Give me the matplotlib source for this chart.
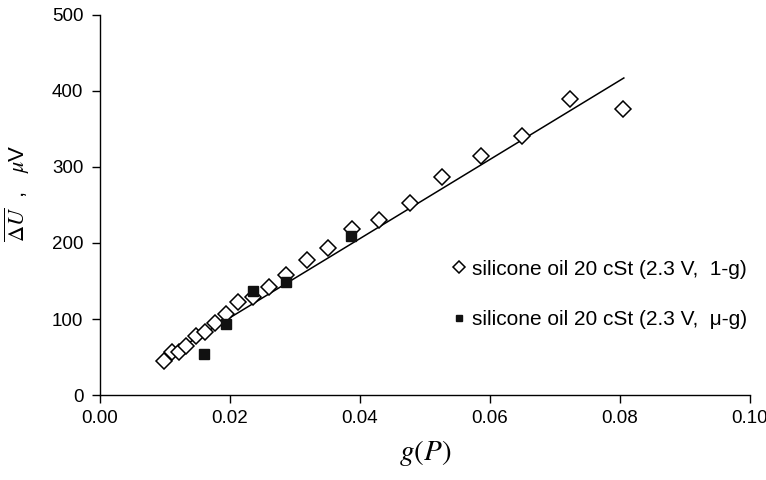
import matplotlib.pyplot as plt

plt.rcParams['font.family'] = ['Liberation Sans', 'DejaVu Sans']
plt.rcParams['mathtext.fontset'] = 'stix'

# silicone oil 20 cSt, 2.3 V, 1-g (hollow diamonds)
g_1g = [0.0099, 0.0111, 0.0122, 0.0132, 0.0147, 0.0162, 0.0177, 0.0194, 0.0213,
        0.0236, 0.0260, 0.0287, 0.0318, 0.0351, 0.0388, 0.0429, 0.0477, 0.0527,
        0.0586, 0.0650, 0.0723, 0.0805]
u_1g = [45, 57, 57, 64, 78, 83, 95, 107, 123, 129, 142, 158, 178, 193, 218, 230,
        252, 287, 314, 341, 390, 376]

# silicone oil 20 cSt, 2.3 V, micro-g (filled squares)
g_ug = [0.0160, 0.0194, 0.0235, 0.0287, 0.0387]
u_ug = [54, 93, 137, 149, 209]

# linear fit line end points
fit_x = [0.0089, 0.0806]
fit_y = [44, 417]

fig = plt.figure(figsize=(7.66, 4.80), dpi=100)
ax = fig.add_axes([0.1305, 0.177, 0.8485, 0.792])

ax.plot(fit_x, fit_y, color="black", linewidth=1.1, zorder=1)
ax.plot(g_1g, u_1g, linestyle="none", marker="D", markersize=8.5,
        markerfacecolor="white", markeredgecolor="black", markeredgewidth=1.1,
        label="silicone oil 20 cSt (2.3 V,  1-g)", zorder=2)
ax.plot(g_ug, u_ug, linestyle="none", marker="s", markersize=6.5,
        color="#111111", label="silicone oil 20 cSt (2.3 V,  \u03bc-g)", zorder=3)

ax.set_xlim(0, 0.10)
ax.set_ylim(0, 500)
ax.set_xticks([0.00, 0.02, 0.04, 0.06, 0.08, 0.10])
ax.set_xticklabels(["0.00", "0.02", "0.04", "0.06", "0.08", "0.10"])
ax.set_yticks([0, 100, 200, 300, 400, 500])
ax.tick_params(labelsize=13.5, direction="out", length=6, width=1)
ax.tick_params(axis="y", pad=6)
ax.tick_params(axis="x", pad=5)

for side in ["top", "right"]:
    ax.spines[side].set_visible(False)
for side in ["left", "bottom"]:
    ax.spines[side].set_linewidth(1.0)

ax.set_xlabel(r"$g\left(P\right)$", fontsize=21, labelpad=8)
ax.set_ylabel(r"$\overline{\Delta U}$  ,   $\mu$V", fontsize=16)
ax.yaxis.set_label_coords(-0.104, 0.53)

leg = ax.legend(loc="center left", bbox_to_anchor=(0.511, 0.265), frameon=False,
                fontsize=15, labelspacing=1.5, handletextpad=0.2,
                handlelength=0.8, markerscale=0.7)

fig.savefig("out.png", dpi=100)
